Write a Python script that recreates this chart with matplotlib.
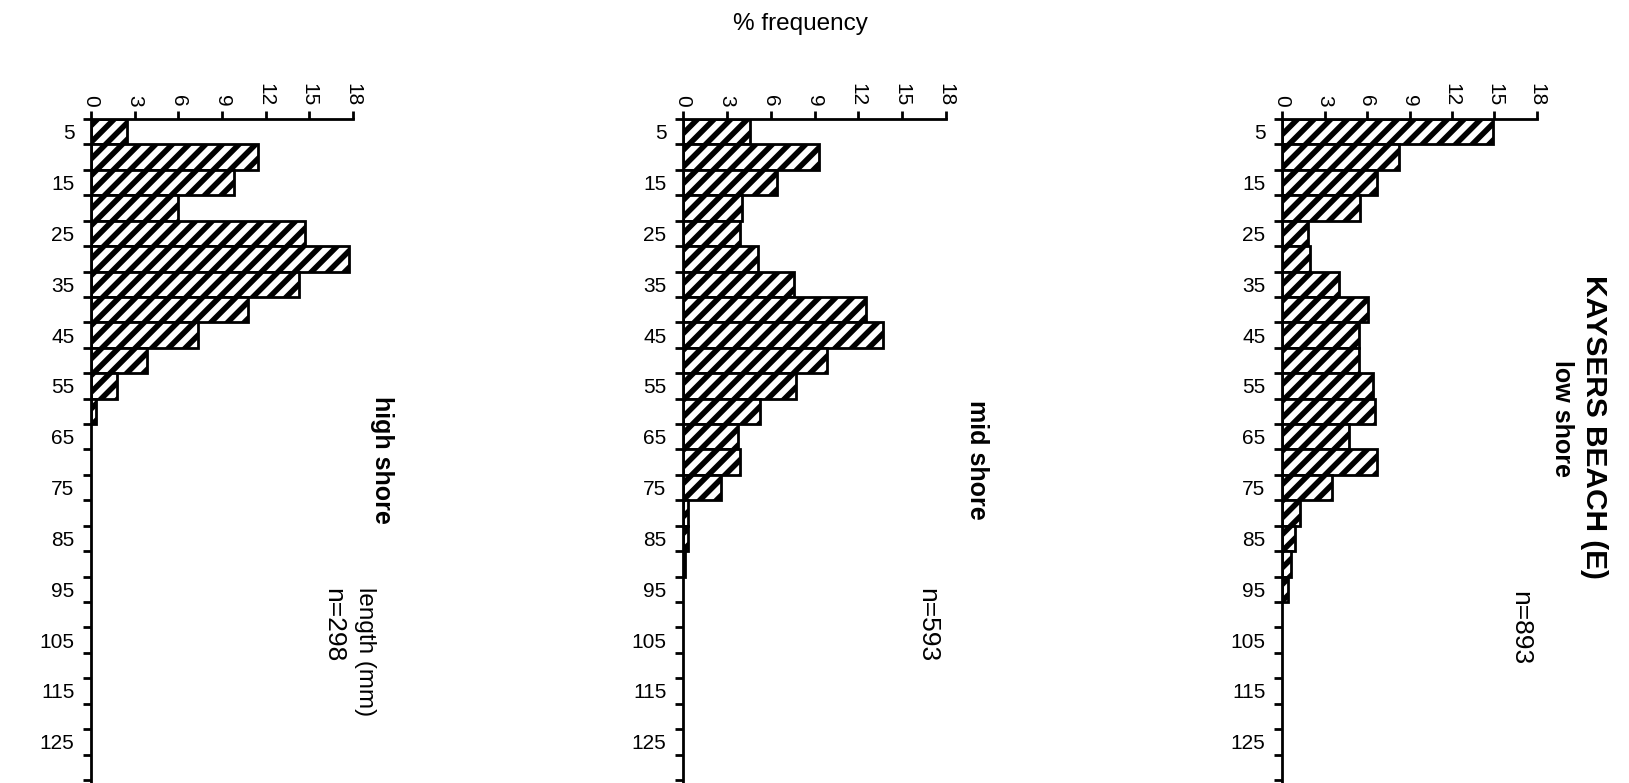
import matplotlib
matplotlib.use('Agg')
import matplotlib.pyplot as plt
import numpy as np

plt.rcParams['font.family'] = ['Liberation Sans', 'DejaVu Sans']
plt.rcParams['hatch.linewidth'] = 4.0

# length classes (mm, bin centres) and % frequency per class
length_centres = [5, 10, 15, 20, 25, 30, 35, 40, 45, 50, 55, 60, 65, 70, 75, 80, 85, 90, 95]
length_labels = [5, 15, 25, 35, 45, 55, 65, 75, 85, 95, 105, 115, 125]
freq_ticks = [0, 3, 6, 9, 12, 15, 18]

high_shore = [2.5, 11.5, 9.8, 6.0, 14.7, 17.7, 14.3, 10.8, 7.35, 3.85, 1.8, 0.35]
mid_shore = [4.6, 9.3, 6.4, 4.05, 3.9, 5.1, 7.6, 12.5, 13.7, 9.85, 7.75, 5.3, 3.75,
             3.9, 2.6, 0.34, 0.34, 0.17]
low_shore = [14.9, 8.25, 6.7, 5.5, 1.85, 2.0, 4.0, 6.05, 5.4, 5.4, 6.45, 6.55, 4.7,
             6.7, 3.55, 1.3, 0.9, 0.65, 0.45]

W, H = 1629, 783
fig = plt.figure(figsize=(W / 100, H / 100), dpi=100)

# panel left edge / right edge (pixels)
panels = [
    (high_shore, 91, 353),
    (mid_shore, 683, 946),
    (low_shore, 1282, 1537),
]
top_px = 119

for vals, x0, x1 in panels:
    ax = fig.add_axes([x0 / W, 0, (x1 - x0) / W, (H - top_px) / H])
    bars = ax.barh(length_centres[:len(vals)], vals, height=5, color='white',
                   edgecolor='black', hatch='//', linewidth=2)
    for b in bars:
        if hasattr(b, 'set_hatch_linewidth'):
            b.set_hatch_linewidth(4.0)
    ax.set_xlim(0, 18)
    ax.set_ylim(133.1, 2.5)
    for s in ['right', 'bottom']:
        ax.spines[s].set_visible(False)
    for s in ['left', 'top']:
        ax.spines[s].set_linewidth(2)

    ax.xaxis.tick_top()
    ax.set_xticks(freq_ticks)
    ax.set_xticklabels([str(t) for t in freq_ticks], rotation=-90, fontsize=15)
    ax.tick_params(axis='x', length=6, width=2, pad=3)

    ax.set_yticks(np.arange(2.5, 135, 5))
    ax.set_yticklabels([])
    ax.tick_params(axis='y', which='major', length=6, width=2)
    ax.set_yticks(length_labels, minor=True)
    ax.set_yticklabels([str(v) for v in length_labels], minor=True, fontsize=15)
    ax.tick_params(axis='y', which='minor', length=0, pad=12)


def label(x, y, s, size=18, bold=False, rot=-90):
    fig.text(x / W, 1 - y / H, s, ha='center', va='center', rotation=rot,
             fontsize=size, fontweight='bold' if bold else 'normal')


label(800, 24, '% frequency', 17.5, rot=0)
label(365, 652, 'length (mm)', 17.5)
label(382, 460, 'high shore', 18, bold=True)
label(333, 625, 'n=298', 19)
label(977, 460, 'mid shore', 18, bold=True)
label(927, 625, 'n=593', 19)
label(1562, 418, 'low shore', 18, bold=True)
label(1520, 628, 'n=893', 19)
label(1594, 427, 'KAYSERS BEACH (E)', 21.5, bold=True)

fig.savefig('out.png', dpi=100)
